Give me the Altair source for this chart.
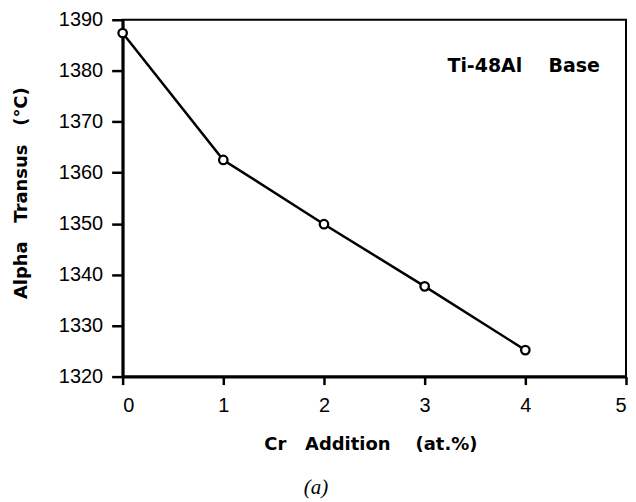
import altair as alt
import pandas as pd

NB = "\u00a0"

cr = [0, 1, 2, 3, 4]
alpha_transus = [1387.4, 1362.5, 1349.9, 1337.7, 1325.2]
x_ticks = [0, 0.5, 1, 1.5, 2, 2.5, 3, 3.5, 4, 4.5, 5]
y_ticks = [1320, 1325, 1330, 1335, 1340, 1345, 1350, 1355, 1360, 1365,
           1370, 1375, 1380, 1385, 1390]
x_title = "Cr" + NB * 3 + "Addition" + NB * 4 + "(at.%)"
y_title = "Alpha" + NB * 3 + "Transus" + NB * 3 + "(°C)"
note_text = ["Ti-48Al" + NB * 4 + "Base"]
note_x = [4.74]
note_y = [1381.0]
panel_label = "(a)"

W, H = 505, 358

df = pd.DataFrame({"cr": cr, "t": alpha_transus})
note = pd.DataFrame({"x": note_x, "y": note_y, "text": note_text})

xs = alt.Scale(domain=[0, 5], nice=False, zero=False)
ys = alt.Scale(domain=[1320, 1390], nice=False, zero=False)

x_enc = alt.X("cr:Q", scale=xs, title=None,
              axis=alt.Axis(values=x_ticks, format="d",
                            labelExpr="datum.value % 1 == 0 ? datum.label : ''",
                            tickSize={"condition": {"test": "datum.value % 1 != 0", "value": 5}, "value": 8},
                            tickWidth=2.5, domainWidth=3, labelFontSize=20, labelPadding=11))
y_enc = alt.Y("t:Q", scale=ys, title=None,
              axis=alt.Axis(values=y_ticks, format="d",
                            labelExpr="datum.value % 10 == 0 ? datum.label : ''",
                            tickSize={"condition": {"test": "datum.value % 10 != 0", "value": 5}, "value": 11},
                            tickWidth=2.5, domainWidth=3, labelFontSize=20, labelPadding=9))

line = alt.Chart(df).mark_line(color="black", strokeWidth=2.5).encode(x=x_enc, y=y_enc)
pts = alt.Chart(df).mark_point(shape="circle", size=72, filled=True, fill="white",
                               stroke="black", strokeWidth=2.3, opacity=1).encode(
    x=alt.X("cr:Q", scale=xs), y=alt.Y("t:Q", scale=ys))

note_layer = alt.Chart(note).mark_text(align="right", baseline="middle", fontSize=19,
                                       fontWeight="bold", font="DejaVu Sans",
                                       color="black").encode(
    x=alt.X("x:Q", scale=xs), y=alt.Y("y:Q", scale=ys), text="text:N")

titles = pd.DataFrame({"k": [0]})
xt = alt.Chart(titles).mark_text(text=x_title, align="center", baseline="middle",
                                 fontSize=18, fontWeight="bold", font="DejaVu Sans",
                                 color="black").encode(
    x=alt.value(249), y=alt.value(H + 69))
yt = alt.Chart(titles).mark_text(text=y_title, align="center", baseline="middle",
                                 angle=270, fontSize=18, fontWeight="bold",
                                 font="DejaVu Sans", color="black").encode(
    x=alt.value(-101), y=alt.value(174))
at = alt.Chart(titles).mark_text(text=panel_label, align="center", baseline="middle",
                                 fontSize=21, fontStyle="italic", font="Liberation Serif",
                                 color="black").encode(
    x=alt.value(194), y=alt.value(H + 112))

chart = alt.layer(line, pts, note_layer, xt, yt, at).properties(
    width=W, height=H,
    padding={"left": 5, "top": 1, "right": 0, "bottom": 0}
).configure_view(stroke="black", strokeWidth=2).configure_axis(
    grid=False, domainColor="black", tickColor="black", labelColor="black",
    labelFont="Liberation Sans"
)

chart.save("out.html", embed_options={"renderer": "svg", "actions": False})
